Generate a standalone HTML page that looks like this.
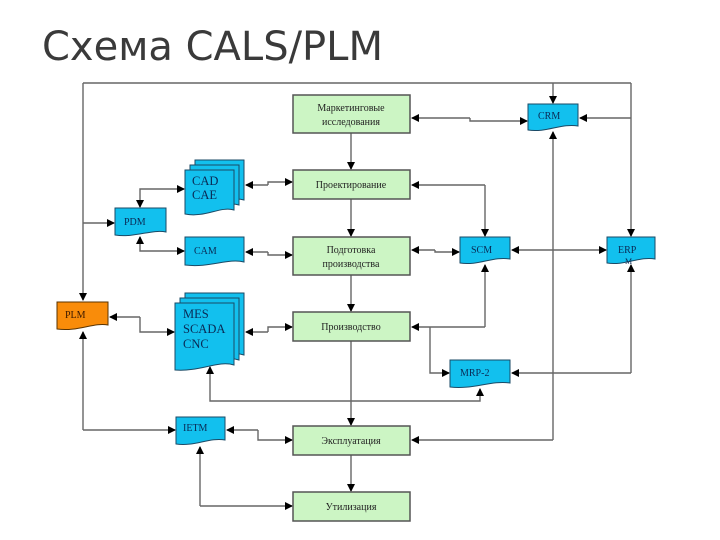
<!DOCTYPE html>
<html><head><meta charset="utf-8"><style>
html,body{margin:0;padding:0;background:#fff;}
svg{display:block}
</style></head><body>
<svg width="720" height="540" viewBox="0 0 720 540" xmlns="http://www.w3.org/2000/svg">
<defs>
<marker id="a" markerWidth="8" markerHeight="8" refX="7" refY="4" orient="auto" markerUnits="userSpaceOnUse">
<path d="M0,0 L8,4 L0,8 Z" fill="#000"/></marker>
</defs>
<text x="42" y="60" font-family="DejaVu Sans, Liberation Sans, sans-serif" font-size="40" fill="#3a3a3a">Схема CALS/PLM</text>

<g stroke="#666" stroke-width="1.4" fill="none">
<path d="M83,83 H631"/>
<path d="M83,83 V300" marker-end="url(#a)"/>
<path d="M83,223 H114" marker-end="url(#a)"/>
<path d="M553,83 V103" marker-end="url(#a)"/>
<path d="M631,83 V236" marker-end="url(#a)"/>
<path d="M631,118 H580" marker-end="url(#a)"/>
<path d="M470,118 H412" marker-end="url(#a)"/>
<path d="M470,118 V121 H527" marker-end="url(#a)"/>
<path d="M351,133 V169" marker-end="url(#a)"/>
<path d="M351,199 V236" marker-end="url(#a)"/>
<path d="M351,275 V311" marker-end="url(#a)"/>
<path d="M351,341 V425" marker-end="url(#a)"/>
<path d="M351,455 V491" marker-end="url(#a)"/>
<path d="M485,185 H412" marker-end="url(#a)"/>
<path d="M485,185 V236" marker-end="url(#a)"/>
<path d="M435,250 H412" marker-end="url(#a)"/>
<path d="M435,250 V252 H459" marker-end="url(#a)"/>
<path d="M553,250 H512" marker-end="url(#a)"/>
<path d="M553,250 H606" marker-end="url(#a)"/>
<path d="M553,440 V132" marker-end="url(#a)"/>
<path d="M553,440 H412" marker-end="url(#a)"/>
<path d="M485,327 V265" marker-end="url(#a)"/>
<path d="M485,327 H412" marker-end="url(#a)"/>
<path d="M430,327 V373 H449" marker-end="url(#a)"/>
<path d="M631,373 V265" marker-end="url(#a)"/>
<path d="M631,373 H512" marker-end="url(#a)"/>
<path d="M330,401 H480 V389" marker-end="url(#a)"/>
<path d="M330,401 H210 V367" marker-end="url(#a)"/>
<path d="M268,185 H246" marker-end="url(#a)"/>
<path d="M268,185 V182 H292" marker-end="url(#a)"/>
<path d="M160,189 H184" marker-end="url(#a)"/>
<path d="M160,189 H140 V207" marker-end="url(#a)"/>
<path d="M160,251 H184" marker-end="url(#a)"/>
<path d="M160,251 H140 V237" marker-end="url(#a)"/>
<path d="M268,252 H246" marker-end="url(#a)"/>
<path d="M268,252 V255 H292" marker-end="url(#a)"/>
<path d="M140,317 H110" marker-end="url(#a)"/>
<path d="M140,317 V332 H174" marker-end="url(#a)"/>
<path d="M268,332 H246" marker-end="url(#a)"/>
<path d="M268,332 V327 H292" marker-end="url(#a)"/>
<path d="M83,430 V332" marker-end="url(#a)"/>
<path d="M83,430 H175" marker-end="url(#a)"/>
<path d="M258,430 H227" marker-end="url(#a)"/>
<path d="M258,430 V440 H292" marker-end="url(#a)"/>
<path d="M200,506 V447" marker-end="url(#a)"/>
<path d="M200,506 H292" marker-end="url(#a)"/>
</g>

<g fill="#ccf5c4" stroke="#555" stroke-width="1.5">
<rect x="293" y="95" width="117" height="38"/>
<rect x="293" y="170" width="117" height="29"/>
<rect x="293" y="237" width="117" height="38"/>
<rect x="293" y="312" width="117" height="29"/>
<rect x="293" y="426" width="117" height="29"/>
<rect x="293" y="492" width="117" height="29"/>
</g>
<g font-family="Liberation Serif, serif" font-size="10" fill="#222" text-anchor="middle">
<text x="351" y="111">Маркетинговые</text>
<text x="351" y="125">исследования</text>
<text x="351" y="188">Проектирование</text>
<text x="351" y="253">Подготовка</text>
<text x="351" y="267">производства</text>
<text x="351" y="330">Производство</text>
<text x="351" y="444">Эксплуатация</text>
<text x="351" y="510">Утилизация</text>
</g>

<g fill="#12c0ee" stroke="#1a4a66" stroke-width="1">
<path d="M195,160 H244 V200 C230,196 215,206 195,204 Z"/>
<path d="M190,165 H239 V205 C225,201 210,211 190,209 Z"/>
<path d="M185,170 H234 V210 C220,206 205,218 185,214 Z"/>
<path d="M185,293 H244 V355 C228,350 210,362 185,360 Z"/>
<path d="M180,298 H239 V360 C223,355 205,367 180,365 Z"/>
<path d="M175,303 H234 V365 C218,360 200,372 175,370 Z"/>
<path d="M115,208 H166 V232 C152,229 135,238 115,235 Z"/>
<path d="M185,237 H244 V262 C228,258 210,268 185,265 Z"/>
<path d="M528,104 H578 V126 C562,123 546,133 528,130 Z"/>
<path d="M460,237 H510 V259 C494,256 478,266 460,263 Z"/>
<path d="M607,237 H655 V259 C640,256 624,266 607,263 Z"/>
<path d="M450,360 H510 V383 C492,380 472,390 450,387 Z"/>
<path d="M176,417 H225 V440 C210,437 194,447 176,444 Z"/>
</g>
<path d="M57,302 H108 V325 C94,322 78,332 57,329 Z" fill="#f98c0a" stroke="#5a3300" stroke-width="1"/>

<g font-family="Liberation Serif, serif" font-size="10" fill="#0a2a55">
<text x="192" y="185" font-size="12.5">CAD</text>
<text x="192" y="199" font-size="12.5">CAE</text>
<text x="124" y="225">PDM</text>
<text x="194" y="254">CAM</text>
<text x="183" y="318" font-size="12.5">MES</text>
<text x="183" y="333" font-size="12.5">SCADA</text>
<text x="183" y="348" font-size="12.5">CNC</text>
<text x="538" y="119">CRM</text>
<text x="471" y="253">SCM</text>
<text x="618" y="253">ERP</text>
<text x="625" y="264" font-size="8">M</text>
<text x="460" y="376">MRP-2</text>
<text x="183" y="431">IETM</text>
<text x="65" y="318" fill="#3a1800">PLM</text>
</g>
</svg>
</body></html>
